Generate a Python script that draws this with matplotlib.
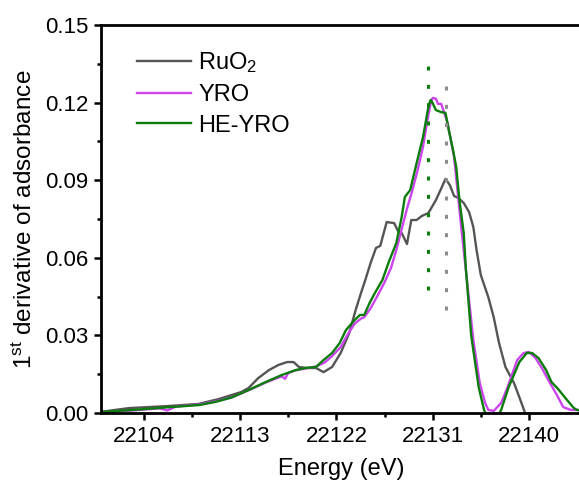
import matplotlib
matplotlib.use("Agg")
import matplotlib.pyplot as plt

plt.rcParams['font.family'] = ['Liberation Sans', 'DejaVu Sans']
plt.rcParams['mathtext.fontset'] = 'custom'
plt.rcParams['mathtext.rm'] = 'Liberation Sans'
plt.rcParams['mathtext.it'] = 'Liberation Sans'

# 1st-derivative XANES spectra, Ru K-edge
ruo2_e = [22099.9, 22102.6, 22106.3, 22109.1, 22111.0, 22113.1, 22113.8, 22114.7,
          22115.7, 22116.6, 22117.4, 22118.0, 22118.5, 22119.2, 22120.1, 22120.8,
          22121.6, 22122.4, 22123.2, 22123.8, 22124.3, 22124.7, 22125.2, 22125.7,
          22126.1, 22126.7, 22127.4, 22127.8, 22128.1, 22128.6, 22129.0, 22129.5,
          22130.0, 22130.6, 22131.3, 22131.9, 22132.2, 22132.6, 22133.0, 22133.4,
          22133.9, 22134.4, 22134.8, 22135.1, 22135.5, 22136.2, 22136.7, 22137.2,
          22137.8, 22138.6, 22139.2, 22139.6, 22140.0]
ruo2_v = [0.0004, 0.0019, 0.0027, 0.0035, 0.0054, 0.0081, 0.0097, 0.0135,
          0.0166, 0.0186, 0.0197, 0.0197, 0.0178, 0.0174, 0.0174, 0.0158,
          0.0178, 0.0232, 0.0309, 0.0398, 0.0464, 0.0514, 0.0580, 0.0638,
          0.0646, 0.0738, 0.0734, 0.0700, 0.0696, 0.0653, 0.0746, 0.0746,
          0.0762, 0.0773, 0.0823, 0.0877, 0.0905, 0.0881, 0.0839, 0.0831,
          0.0812, 0.0777, 0.0719, 0.0630, 0.0533, 0.0448, 0.0371, 0.0271,
          0.0178, 0.0116, 0.0050, 0.0004, -0.0040]

yro_e = [22099.9, 22103.0, 22105.5, 22106.2, 22107.0, 22109.2, 22110.7, 22112.2,
         22113.8, 22115.4, 22116.9, 22117.2, 22117.5, 22118.2, 22119.1, 22120.1,
         22120.9, 22121.6, 22122.4, 22123.0, 22123.7, 22124.3, 22124.6, 22125.2,
         22125.8, 22126.5, 22127.1, 22127.6, 22128.1, 22128.6, 22129.1, 22129.6,
         22130.1, 22130.5, 22130.8, 22131.0, 22131.3, 22131.5, 22131.8, 22132.0,
         22132.4, 22133.0, 22133.6, 22134.2, 22134.8, 22135.4, 22135.9, 22136.2,
         22136.7, 22137.4, 22138.0, 22138.9, 22139.5, 22140.0, 22140.6, 22141.2,
         22141.8, 22142.6, 22143.2, 22143.9, 22144.5, 22145.0]
yro_v = [0.0004, 0.0010, 0.0018, 0.0010, 0.0025, 0.0033, 0.0045, 0.0060,
         0.0088, 0.0118, 0.0142, 0.0132, 0.0155, 0.0165, 0.0172, 0.0180,
         0.0195, 0.0220, 0.0255, 0.0300, 0.0345, 0.0365, 0.0370, 0.0405,
         0.0450, 0.0505, 0.0560, 0.0630, 0.0710, 0.0790, 0.0860, 0.0940,
         0.1030, 0.1130, 0.1195, 0.1218, 0.1215, 0.1195, 0.1195, 0.1170,
         0.1120, 0.0990, 0.0746, 0.0514, 0.0282, 0.0116, 0.0039, 0.0012,
         0.0008, 0.0039, 0.0100, 0.0205, 0.0232, 0.0236, 0.0213, 0.0174,
         0.0128, 0.0070, 0.0023, 0.0012, 0.0012, 0.0010]

heyro_e = [22099.9, 22103.0, 22106.2, 22109.2, 22110.7, 22112.2, 22113.8, 22115.4,
           22116.9, 22118.2, 22119.1, 22120.1, 22120.8, 22121.6, 22122.3, 22122.9,
           22123.7, 22124.2, 22124.6, 22125.1, 22125.6, 22126.3, 22126.9, 22127.6,
           22128.1, 22128.4, 22128.9, 22129.5, 22130.1, 22130.6, 22130.8, 22131.0,
           22131.3, 22131.8, 22132.2, 22132.5, 22132.9, 22133.2, 22133.5, 22133.9,
           22134.1, 22134.6, 22135.3, 22135.8, 22136.3, 22136.8, 22137.4, 22138.1,
           22139.1, 22139.8, 22140.3, 22140.9, 22141.6, 22142.1, 22142.8, 22143.4,
           22144.2, 22144.5, 22145.0]
heyro_v = [0.0004, 0.0012, 0.0022, 0.0031, 0.0043, 0.0060, 0.0089, 0.0120,
           0.0147, 0.0166, 0.0174, 0.0178, 0.0205, 0.0232, 0.0270, 0.0321,
           0.0359, 0.0379, 0.0379, 0.0425, 0.0464, 0.0514, 0.0584, 0.0657,
           0.0757, 0.0835, 0.0862, 0.0966, 0.1067, 0.1183, 0.1210, 0.1198,
           0.1171, 0.1163, 0.1160, 0.1094, 0.1017, 0.0951, 0.0823, 0.0696,
           0.0560, 0.0300, 0.0100, 0.0012, -0.0030, -0.0040, 0.0012, 0.0100,
           0.0197, 0.0232, 0.0232, 0.0212, 0.0166, 0.0120, 0.0089, 0.0058,
           0.0019, 0.0012, 0.0008]

# Edge positions marked by dotted guides: (energy, y-start, y-end)
heyro_edge = (22130.6, 0.0475, 0.1357)
ruo2_edge = (22132.2, 0.0398, 0.1280)

labels = ['RuO$_2$', 'YRO', 'HE-YRO']
colors = ['#555555', '#cc44ee', '#0b7d0b']
xticks = [22104, 22113, 22122, 22131, 22140]
yticks = [0.00, 0.03, 0.06, 0.09, 0.12, 0.15]

fig = plt.figure(figsize=(5.79, 4.90), dpi=100)
ax = fig.add_axes([0.1744, 0.1571, 0.8316, 0.792])

ax.plot(ruo2_e, ruo2_v, color=colors[0], lw=1.7, label=labels[0])
ax.plot(yro_e, yro_v, color=colors[1], lw=1.7, label=labels[1])
ax.plot(heyro_e, heyro_v, color=colors[2], lw=1.7, label=labels[2])

ax.plot([heyro_edge[0]] * 2, heyro_edge[1:], color=colors[2], lw=2.2,
        dashes=(1.3, 4.7), solid_capstyle='butt')
ax.plot([ruo2_edge[0]] * 2, ruo2_edge[1:], color='#8c8c8c', lw=2.2,
        dashes=(1.3, 4.7), solid_capstyle='butt')

ax.set_xlim(22100, 22145)
ax.set_ylim(0, 0.15)
ax.set_xticks(xticks)
ax.set_xticks([t + 4.5 for t in xticks[:-1]], minor=True)
ax.set_yticks(yticks)
ax.set_yticks([t + 0.015 for t in yticks[:-1]], minor=True)
ax.set_yticklabels([f'{t:.2f}' for t in yticks])

for s in ['left', 'bottom', 'top']:
    ax.spines[s].set_linewidth(2.0)
ax.spines['right'].set_visible(False)
ax.tick_params(which='major', direction='out', length=5, width=1.8,
               labelsize=16, pad=4)
ax.tick_params(which='minor', direction='out', length=3, width=1.8)

ax.set_xlabel('Energy (eV)', fontsize=17, labelpad=8)
ax.set_ylabel('1$^{\\rm st}$ derivative of adsorbance', fontsize=17.5, labelpad=6)

leg = ax.legend(loc='upper left', bbox_to_anchor=(0.055, 0.96), frameon=False,
                fontsize=17, handlelength=2.3, handletextpad=0.3,
                labelspacing=0.38, borderaxespad=0)

fig.savefig('out.png', dpi=100)
